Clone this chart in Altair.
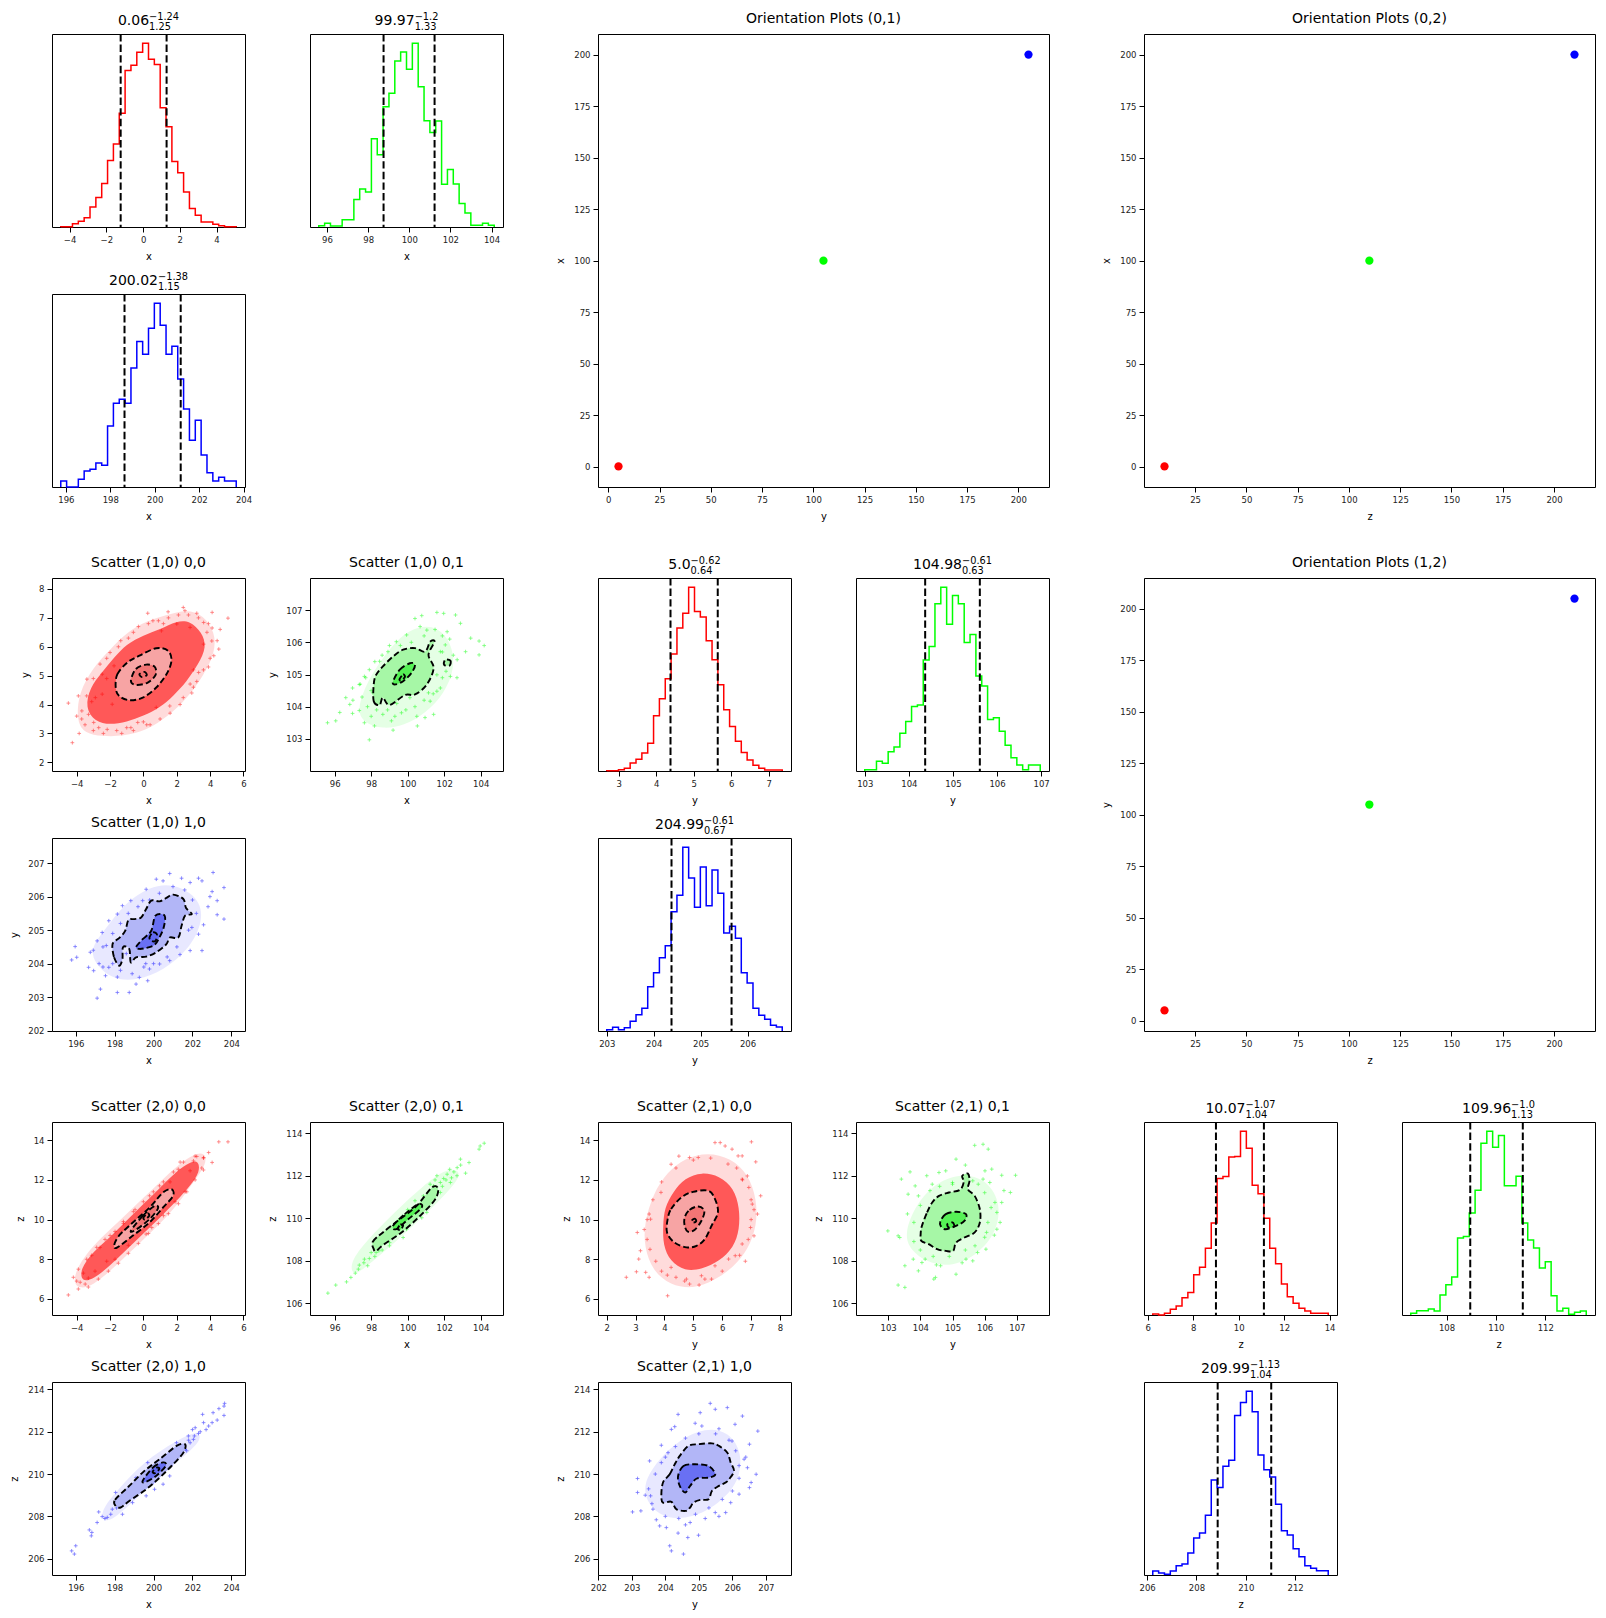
import altair as alt

FONT = "DejaVu Sans"
RED, GREEN, BLUE = "#ff0000", "#00ff00", "#0000ff"

# ---------------- layout constants ----------------
SW = 193                 # small panel size
GAP_X, GAP_Y = 65, 67    # gaps inside a block
BW = 2 * SW + GAP_X      # big (orientation) panel width
BH = 2 * SW + GAP_Y      # big panel height

# ---------------- histogram data (30 equal bins each) ----------------
hx_r_range = [-4.48, 5.07]
hx_r_counts = [1, 1, 10, 17, 28, 60, 88, 130, 199, 248, 340, 468, 484, 523, 550,
               502, 486, 357, 300, 196, 162, 105, 55, 35, 15, 15, 8, 4, 1, 0.5]
hx_r_lines = [-1.22, 1.28]
hx_r_title = ["0.06", "\u22121.24", "1.25"]

hx_g_range = [95.60, 104.13]
hx_g_counts = [4, 11, 3, 3, 22, 22, 82, 114, 105, 264, 216, 360, 400, 497, 524,
               472, 550, 420, 318, 283, 317, 128, 172, 129, 70, 42, 5, 5, 11, 5]
hx_g_lines = [98.75, 101.23]
hx_g_title = ["99.97", "\u22121.2", "1.33"]

hx_b_range = [195.77, 203.67]
hx_b_counts = [18, 0, 0, 23, 48, 53, 72, 65, 183, 251, 263, 251, 357, 436, 398,
               476, 551, 485, 398, 422, 324, 234, 140, 200, 96, 43, 18, 29, 18, 18]
hx_b_lines = [198.64, 201.17]
hx_b_title = ["200.02", "\u22121.38", "1.15"]

hy_r_range = [2.68, 7.36]
hy_r_counts = [1, 1, 4, 8, 24, 35, 54, 83, 165, 216, 276, 350, 428, 472, 550,
               477, 461, 390, 333, 258, 183, 133, 89, 55, 33, 17, 8, 3, 3, 3]
hy_r_lines = [4.38, 5.64]
hy_r_title = ["5.0", "\u22120.62", "0.64"]

hy_g_range = [103.0, 106.98]
hy_g_counts = [4, 4, 29, 23, 58, 72, 113, 149, 194, 198, 333, 374, 502, 552, 441,
               527, 502, 386, 410, 285, 255, 155, 160, 119, 77, 40, 18, 4, 18, 18]
hy_g_lines = [104.37, 105.61]
hy_g_title = ["104.98", "\u22120.61", "0.63"]

hy_b_range = [203.0, 206.74]
hy_b_counts = [4, 11, 4, 10, 29, 48, 68, 132, 173, 218, 254, 355, 404, 547, 455,
               368, 488, 373, 479, 410, 292, 312, 276, 173, 143, 68, 47, 35, 17, 12]
hy_b_lines = [204.38, 205.66]
hy_b_title = ["204.99", "\u22120.61", "0.67"]

hz_r_range = [6.22, 13.94]
hz_r_counts = [3, 0, 5, 17, 27, 52, 68, 121, 144, 201, 277, 411, 417, 475, 477,
               553, 502, 390, 365, 291, 201, 154, 93, 55, 35, 20, 12, 5, 5, 5]
hz_r_lines = [9.00, 11.11]
hz_r_title = ["10.07", "\u22121.07", "1.04"]

hz_g_range = [106.55, 113.66]
hz_g_counts = [5, 13, 13, 18, 12, 60, 91, 114, 231, 236, 306, 375, 516, 552, 504,
               539, 388, 388, 417, 276, 225, 201, 141, 160, 58, 12, 20, 2, 8, 12]
hz_g_lines = [108.96, 111.09]
hz_g_title = ["109.96", "\u22121.0", "1.13"]

hz_b_range = [206.23, 213.34]
hz_b_counts = [12, 6, 2, 12, 28, 33, 66, 111, 126, 180, 286, 263, 327, 345, 480,
               519, 553, 491, 361, 317, 295, 213, 133, 120, 79, 55, 28, 20, 13, 13]
hz_b_lines = [208.86, 211.03]
hz_b_title = ["209.99", "\u22121.13", "1.04"]

# hist tick labels
hx_ticks = {"r": [-4, -2, 0, 2, 4], "g": [96, 98, 100, 102, 104], "b": [196, 198, 200, 202, 204]}
hy_ticks = {"r": [3, 4, 5, 6, 7], "g": [103, 104, 105, 106, 107], "b": [203, 204, 205, 206]}
hz_ticks = {"r": [6, 8, 10, 12, 14], "g": [108, 110, 112], "b": [206, 208, 210, 212]}

# ---------------- scatter axes (domains and ticks per colour/variable) ----------------
dom_r = {"x": [-5.48, 6.09], "y": [1.70, 8.38], "z": [5.19, 14.92]}
dom_g = {"x": [94.65, 105.22], "y": [102.0, 108.0], "z": [105.44, 114.53]}
dom_b = {"x": [194.78, 204.70], "y": [201.99, 207.75], "z": [205.23, 214.35]}
tick_r = {"x": [-4, -2, 0, 2, 4, 6], "y": [2, 3, 4, 5, 6, 7, 8], "z": [6, 8, 10, 12, 14]}
tick_g = {"x": [96, 98, 100, 102, 104], "y": [103, 104, 105, 106, 107], "z": [106, 108, 110, 112, 114]}
tick_b = {"x": [196, 198, 200, 202, 204], "y": [202, 203, 204, 205, 206, 207], "z": [206, 208, 210, 212, 214]}

# ---------------- scatter (1,0): x vs y ----------------
s10r_halo = [(-4.0, 3.4), (-3.9, 4.4), (-3.0, 5.3), (-2.0, 5.9), (-1.0, 6.5), (0.2, 6.9), (1.4, 7.1),
             (2.6, 7.3), (3.6, 7.1), (4.3, 6.5), (4.3, 5.8), (3.6, 5.0), (2.6, 4.2), (1.5, 3.6),
             (0.2, 3.1), (-1.2, 2.9), (-2.5, 2.9), (-3.5, 3.0)]
s10r_cloud = [(-3.5, 3.9), (-3.2, 4.6), (-2.5, 5.1), (-1.8, 5.6), (-1.0, 6.1), (0.0, 6.4), (1.0, 6.6),
              (2.0, 6.9), (2.8, 6.9), (3.5, 6.5), (3.8, 6.0), (3.3, 5.4), (2.6, 4.8), (1.8, 4.3),
              (1.0, 3.9), (0.0, 3.6), (-1.0, 3.4), (-2.0, 3.3), (-2.9, 3.4)]
s10r_c1 = [(-1.66, 4.59), (-1.56, 5.05), (-0.95, 5.46), (-0.24, 5.69), (0.77, 5.95), (1.48, 5.86),
           (1.68, 5.51), (1.38, 5.05), (0.77, 4.59), (-0.04, 4.24), (-0.85, 4.15), (-1.46, 4.30)]
s10r_c2 = [(-0.75, 4.82), (-0.45, 5.23), (0.16, 5.38), (0.67, 5.31), (0.73, 5.03), (0.26, 4.76), (-0.45, 4.68)]
s10r_c3 = [(-0.24, 5.05), (0.06, 5.13), (0.2, 5.02), (-0.08, 4.95)]
s10r_pts = [(-4.50, 4.05), (-4.26, 2.68), (-3.85, 3.0), (-3.69, 3.78), (-3.29, 3.66), (-3.39, 4.88),
            (-2.98, 3.38), (-2.68, 3.20), (-2.47, 5.05), (-2.17, 3.14), (-1.76, 5.34), (-1.36, 6.21),
            (-0.75, 3.20), (-0.34, 3.38), (0.26, 7.16), (0.57, 6.90), (1.48, 7.21), (1.08, 6.55),
            (2.39, 7.36), (2.49, 7.25), (3.20, 7.16), (3.61, 6.84), (4.12, 7.19), (4.12, 6.65),
            (3.81, 6.50), (4.42, 6.21), (4.52, 5.92), (4.22, 5.69), (3.61, 6.09), (5.07, 6.99),
            (3.31, 5.11), (2.80, 4.71), (2.39, 4.24), (1.58, 3.95), (0.77, 3.90), (2.80, 6.67),
            (2.0, 6.79), (-2.47, 4.36), (-1.87, 4.01), (-2.88, 4.24), (-3.9, 4.3), (-2.2, 5.6),
            (-0.6, 6.5), (-1.3, 3.0), (0.4, 3.3), (3.0, 4.6), (3.9, 5.3), (4.6, 6.6),
            (-3.7, 3.5), (-3.4, 4.3), (-3.0, 4.9), (-2.6, 5.4), (-2.0, 5.8), (-1.5, 6.0), (-0.9, 6.3),
            (-0.3, 6.7), (0.3, 6.8), (0.9, 6.9), (1.5, 7.0), (2.1, 7.1), (2.7, 7.1), (3.3, 7.0), (3.9, 6.8),
            (4.1, 6.2), (4.0, 5.6), (3.6, 5.2), (3.2, 4.8), (2.9, 4.4), (2.2, 4.0), (1.6, 3.7), (1.0, 3.5),
            (0.2, 3.3), (-0.6, 3.1), (-1.6, 3.1), (-2.4, 3.0), (-3.0, 3.1), (-3.5, 3.3), (-4.0, 3.6),
            (-3.1, 4.1), (-2.2, 4.9), (1.2, 6.8), (3.0, 5.2), (0.0, 3.4), (-1.0, 3.2)]

s10g_cloud = [(97.2, 103.9), (97.8, 104.8), (98.6, 105.5), (99.6, 106.2), (100.6, 106.5), (101.6, 106.5),
              (102.4, 106.0), (102.6, 105.2), (102.0, 104.4), (101.0, 103.8), (99.8, 103.4), (98.6, 103.3),
              (97.6, 103.5)]
s10g_c1 = [(98.14, 104.69), (98.14, 104.17), (98.46, 104.05), (98.64, 104.28), (99.01, 104.05),
           (99.84, 104.36), (100.40, 104.38), (101.05, 104.69), (101.42, 105.20), (101.14, 105.61),
           (101.47, 106.02), (101.23, 106.02), (100.95, 105.71), (100.40, 105.82), (99.75, 105.77),
           (99.20, 105.56), (98.64, 105.25), (98.27, 104.99)]
s10g_c1b = [(102.06, 105.46), (102.34, 105.43), (102.30, 105.28), (102.0, 105.30)]
s10g_c2 = [(99.20, 104.79), (99.57, 105.15), (100.12, 105.35), (100.40, 105.30), (100.21, 105.05),
           (99.75, 104.79), (99.29, 104.69)]
s10g_c3 = [(99.55, 104.85), (99.75, 105.0), (99.85, 104.92), (99.65, 104.82)]
s10g_pts = [(95.61, 103.50), (96.06, 103.56), (96.28, 103.82), (96.83, 104.07), (96.98, 103.79),
            (97.35, 103.88), (97.63, 103.50), (97.90, 102.97), (98.18, 103.40), (98.64, 103.76),
            (99.11, 103.56), (99.20, 103.27), (99.66, 103.81), (100.12, 104.28), (100.53, 103.40),
            (100.95, 103.66), (101.23, 104.17), (101.60, 104.48), (101.79, 104.58), (102.34, 104.94),
            (102.71, 105.46), (103.17, 105.71), (103.45, 106.13), (103.91, 106.04), (103.91, 105.61),
            (104.19, 105.90), (102.89, 106.59), (102.62, 106.85), (102.16, 106.33), (101.97, 106.90),
            (101.60, 106.93), (100.77, 106.83), (100.40, 106.74), (100.68, 106.49), (99.94, 106.23),
            (101.05, 106.38), (99.38, 106.02), (98.92, 105.71), (98.46, 105.41), (97.90, 105.15),
            (97.35, 104.69), (96.98, 104.58), (96.61, 104.28), (101.42, 103.76), (97.63, 104.94),
            (98.46, 104.58), (99.01, 104.48), (99.57, 104.58), (100.68, 104.89), (100.86, 105.20),
            (99.94, 105.51), (100.49, 105.61), (98.09, 104.43), (98.83, 104.99), (101.14, 104.43),
            (101.60, 104.99), (101.79, 105.71), (102.06, 105.92),
            (97.0, 104.2), (97.5, 104.3), (97.8, 104.0), (98.0, 103.7), (98.3, 103.9), (98.9, 103.9),
            (99.4, 104.1), (99.9, 103.9), (100.4, 104.0), (100.9, 104.2), (101.4, 104.4), (101.9, 104.9),
            (102.1, 105.1), (102.5, 105.6), (102.3, 106.1), (101.9, 106.2), (101.5, 106.4), (100.9, 106.2),
            (100.2, 106.0), (99.6, 105.9), (99.0, 105.9), (98.6, 105.6), (98.2, 105.4), (97.7, 104.9),
            (97.4, 104.7), (98.0, 104.5), (101.9, 105.7), (102.7, 104.9), (100.5, 103.7), (99.3, 103.7)]

s10b_cloud = [(196.5, 204.3), (197.5, 205.0), (198.5, 205.8), (199.8, 206.3), (201.0, 206.4), (202.3, 206.0),
              (202.6, 205.3), (201.8, 204.4), (200.5, 203.8), (199.2, 203.5), (197.8, 203.5)]
s10b_c1 = [(197.88, 204.53), (197.97, 204.19), (198.23, 203.94), (198.40, 204.14), (198.43, 204.49),
           (198.75, 204.44), (198.83, 204.04), (199.10, 204.19), (199.62, 204.21), (200.14, 204.34),
           (200.66, 204.58), (200.83, 204.78), (201.27, 204.78), (201.44, 205.13), (201.62, 205.43),
           (201.97, 205.48), (201.67, 205.66), (201.53, 205.93), (201.01, 206.06), (200.66, 205.96),
           (200.31, 205.86), (199.88, 205.88), (199.62, 205.63), (199.36, 205.38), (199.01, 205.33),
           (198.71, 205.30), (198.54, 204.98), (198.23, 204.76), (197.97, 204.66)]
s10b_c2 = [(199.10, 204.49), (199.44, 204.73), (199.88, 204.98), (200.10, 205.43), (200.57, 205.43),
           (200.52, 205.08), (200.28, 204.76), (200.05, 204.56), (199.62, 204.47), (199.27, 204.44)]
s10b_c3 = [(199.79, 204.78), (199.97, 204.93), (200.17, 204.88), (200.10, 204.68), (199.88, 204.68)]
s10b_pts = [(195.97, 204.51), (195.79, 204.11), (196.05, 204.19), (196.75, 204.34), (196.66, 203.89),
            (196.92, 203.79), (197.10, 202.97), (197.27, 203.24), (197.53, 203.64), (197.70, 203.89),
            (198.14, 203.14), (198.14, 203.60), (198.75, 203.14), (199.10, 203.39), (199.27, 203.59),
            (199.70, 203.49), (199.79, 203.84), (200.31, 203.99), (200.83, 204.09), (201.36, 204.27),
            (201.88, 204.39), (202.49, 204.39), (202.31, 204.88), (201.97, 205.08), (202.57, 205.16),
            (203.27, 205.46), (203.62, 205.33), (203.27, 205.88), (203.62, 206.27), (203.01, 206.15),
            (202.49, 206.47), (202.31, 206.55), (201.88, 206.42), (201.44, 206.55), (200.83, 206.69),
            (200.49, 206.47), (200.14, 206.52), (199.62, 206.22), (199.44, 205.88), (198.83, 205.88),
            (198.40, 205.73), (198.14, 205.48), (197.70, 205.28), (197.36, 204.93), (197.10, 204.68),
            (197.57, 204.54), (203.06, 206.72),
            (197.4, 203.9), (197.9, 204.0), (198.3, 203.8), (198.9, 203.7), (199.5, 203.9), (200.0, 204.0),
            (200.7, 204.2), (201.2, 204.5), (201.8, 205.0), (202.2, 205.5), (202.0, 205.9), (201.6, 206.2),
            (201.0, 206.3), (200.3, 206.1), (199.8, 205.9), (199.2, 205.7), (198.7, 205.5), (198.3, 205.2),
            (197.9, 204.9), (197.4, 204.5), (196.9, 204.4), (197.2, 204.0), (202.8, 205.7), (202.9, 206.0),
            (198.6, 204.3), (199.6, 204.0), (201.4, 205.6)]

# ---------------- scatter (2,0): x vs z ----------------
s20r_halo = [(-4.2, 6.8), (-4.0, 7.6), (-3.0, 8.7), (-2.0, 9.5), (-1.0, 10.3), (0.0, 11.1), (1.0, 11.9),
             (2.0, 12.7), (3.0, 13.3), (3.7, 13.4), (3.8, 12.8), (3.0, 11.9), (2.0, 10.7), (1.0, 9.8),
             (0.0, 9.0), (-1.0, 8.2), (-2.0, 7.4), (-3.0, 6.7), (-3.8, 6.5)]
s20r_cloud = [(-3.8, 7.5), (-3.0, 8.4), (-2.0, 9.1), (-1.0, 9.95), (0.0, 10.8), (1.0, 11.6), (2.0, 12.46),
              (2.8, 12.9), (3.3, 13.0), (3.4, 12.4), (2.8, 11.7), (2.0, 10.95), (1.0, 10.1), (0.0, 9.3),
              (-1.0, 8.5), (-2.0, 7.67), (-3.0, 7.0), (-3.7, 6.85)]
s20r_c1 = [(-1.76, 8.68), (-1.50, 9.15), (-0.85, 9.69), (0.37, 10.61), (1.18, 11.37), (1.68, 11.53),
           (1.78, 11.20), (1.18, 10.61), (0.37, 9.86), (-0.65, 9.18), (-1.56, 8.60)]
s20r_c2 = [(-0.75, 9.44), (-0.04, 10.19), (0.67, 10.69), (0.87, 10.56), (0.37, 10.02), (-0.45, 9.49)]
s20r_c3 = [(0.0, 10.1), (0.25, 10.3), (0.35, 10.2), (0.1, 10.0)]
s20r_pts = [(-4.50, 6.20), (-4.20, 7.09), (-3.79, 6.84), (-3.49, 6.75), (-3.6, 7.3), (-3.3, 7.05),
            (-2.9, 7.4), (-2.6, 8.6), (-3.1, 8.2), (-2.2, 7.9), (-1.7, 8.0), (-1.2, 9.9), (-0.5, 10.5),
            (0.5, 9.6), (1.2, 10.2), (0.97, 11.70), (0.37, 11.20), (0.16, 9.27), (1.6, 11.9),
            (2.09, 12.54), (2.5, 11.4), (2.80, 12.46), (3.00, 12.96), (3.20, 13.18), (3.61, 13.13),
            (3.91, 13.38), (4.12, 12.88), (4.52, 13.92), (5.07, 13.92), (3.6, 12.5), (2.2, 12.9),
            (-2.0, 9.2), (-0.9, 8.7), (1.9, 10.9),
            (-4.0, 6.9), (-3.9, 7.5), (-3.4, 8.0), (-2.8, 8.6), (-2.3, 9.0), (-1.7, 9.4), (-1.2, 9.8),
            (-0.6, 10.4), (0.0, 10.9), (0.6, 11.4), (1.2, 11.9), (1.8, 12.4), (2.4, 12.9), (3.1, 13.2),
            (3.6, 13.1), (3.5, 12.6), (3.1, 12.0), (2.6, 11.4), (2.1, 10.8), (1.5, 10.3), (0.9, 9.8),
            (0.3, 9.3), (-0.3, 8.8), (-0.9, 8.3), (-1.5, 7.8), (-2.1, 7.4), (-2.7, 7.0), (-3.3, 6.6),
            (-3.9, 6.5)]

s20g_cloud = [(97.0, 107.2), (98.0, 107.9), (99.5, 109.0), (101.0, 110.2), (102.5, 111.5), (103.0, 112.2),
              (102.2, 112.4), (100.8, 111.5), (99.3, 110.3), (97.8, 109.0), (96.8, 107.9)]
s20g_c1 = [(98.14, 108.54), (98.09, 108.89), (98.64, 109.33), (99.57, 109.95), (100.49, 110.58),
           (101.32, 111.44), (101.66, 111.40), (101.51, 110.89), (100.68, 110.11), (99.66, 109.33),
           (98.64, 108.73), (98.27, 108.45)]
s20g_c2 = [(99.20, 109.64), (99.84, 110.19), (100.58, 110.66), (100.77, 110.50), (100.03, 109.95), (99.38, 109.49)]
s20g_c3 = [(99.45, 109.5), (99.6, 109.7), (99.75, 109.65), (99.6, 109.45)]
s20g_pts = [(95.63, 106.47), (96.06, 106.85), (96.65, 107.00), (96.89, 107.21), (97.13, 107.41),
            (97.35, 107.79), (97.63, 108.07), (97.81, 107.76), (98.00, 108.38), (98.42, 108.46),
            (99.01, 108.85), (99.20, 109.17), (99.94, 109.48), (101.05, 110.27), (101.32, 110.89),
            (101.42, 111.52), (101.79, 111.68), (101.97, 111.87), (102.16, 112.07), (102.53, 112.18),
            (102.71, 112.38), (102.89, 112.78), (103.17, 112.12), (103.36, 112.62), (103.91, 113.25),
            (104.19, 113.53), (103.97, 113.40), (101.79, 111.21), (100.86, 111.05), (100.12, 110.35),
            (99.48, 109.64), (98.83, 109.01), (98.27, 108.38), (100.77, 110.02), (99.75, 109.09),
            (102.34, 111.68), (101.60, 112.0), (101.23, 111.60), (100.40, 110.82), (101.05, 110.74),
            (97.3, 107.6), (97.6, 107.9), (97.9, 108.1), (98.2, 108.2), (98.6, 108.5), (98.9, 109.1),
            (99.3, 109.3), (99.8, 109.6), (100.2, 110.0), (100.6, 110.5), (101.0, 110.9), (101.3, 111.1),
            (101.6, 111.3), (101.9, 111.5), (102.1, 111.8), (102.4, 111.9), (102.7, 112.0), (98.4, 108.9),
            (99.0, 108.7), (99.5, 109.9), (100.0, 110.4), (100.9, 110.5), (101.5, 111.8), (102.3, 112.3),
            (102.9, 112.5)]

s20b_cloud = [(197.5, 207.6), (198.5, 208.3), (200.0, 209.6), (201.5, 210.8), (202.5, 211.6), (202.3, 212.1),
              (201.2, 211.6), (199.5, 210.6), (198.2, 209.3), (197.2, 208.2)]
s20b_c1 = [(198.05, 208.50), (198.02, 208.78), (198.75, 209.44), (199.53, 210.15), (200.31, 210.70),
           (201.18, 211.33), (201.62, 211.41), (201.53, 211.01), (200.92, 210.38), (200.31, 209.83),
           (199.62, 209.28), (198.75, 208.73), (198.31, 208.42)]
s20b_c2 = [(199.44, 209.68), (199.97, 210.31), (200.49, 210.55), (200.63, 210.39), (200.14, 209.92), (199.62, 209.64)]
s20b_c3 = [(199.95, 210.1), (200.15, 210.3), (200.3, 210.25), (200.1, 210.05)]
s20b_pts = [(195.79, 206.37), (196.0, 206.61), (195.93, 206.22), (196.70, 207.36), (196.83, 207.24),
            (196.80, 207.08), (197.10, 207.71), (197.18, 208.21), (197.36, 207.99), (197.62, 207.95),
            (197.88, 208.34), (198.05, 209.13), (198.31, 208.81), (198.40, 208.10), (198.92, 208.65),
            (199.27, 209.20), (199.62, 208.97), (199.79, 209.83), (200.05, 209.28), (200.49, 209.52),
            (200.83, 209.91), (201.27, 210.86), (201.62, 211.17), (201.79, 211.80), (201.88, 211.48),
            (202.05, 211.64), (202.31, 211.92), (202.14, 212.19), (202.52, 212.82), (202.57, 212.43),
            (202.83, 212.27), (203.01, 212.43), (203.06, 212.90), (203.27, 212.55), (203.36, 213.09),
            (203.62, 213.21), (203.65, 213.34), (203.62, 212.77), (201.18, 211.48), (200.83, 211.01),
            (200.49, 210.78), (199.70, 210.54), (199.10, 209.83), (198.66, 209.28),
            (197.5, 207.9), (197.8, 208.1), (198.1, 208.4), (198.5, 208.7), (198.9, 209.1), (199.3, 209.5),
            (199.7, 209.9), (200.2, 210.3), (200.6, 210.7), (201.0, 211.0), (201.4, 211.3), (201.8, 211.6),
            (202.1, 211.8), (202.4, 212.0), (202.7, 212.1), (198.3, 208.9), (199.0, 208.9), (200.0, 209.6),
            (200.9, 210.4), (201.7, 211.1), (202.0, 212.1)]

# ---------------- scatter (2,1): y vs z ----------------
s21r_halo = [(3.3, 9.8), (3.3, 8.6), (3.6, 7.4), (4.2, 6.7), (5.0, 6.5), (5.7, 6.9), (6.4, 7.6), (6.9, 8.5),
             (7.2, 9.7), (7.2, 11.0), (6.9, 12.3), (6.3, 13.1), (5.5, 13.4), (4.7, 13.1), (4.1, 12.4), (3.6, 11.3)]
s21r_cloud = [(3.95, 9.7), (3.95, 8.7), (4.2, 7.9), (4.7, 7.4), (5.3, 7.5), (5.9, 7.9), (6.4, 8.6),
              (6.6, 9.5), (6.6, 10.6), (6.4, 11.6), (5.9, 12.2), (5.3, 12.4), (4.7, 12.1), (4.3, 11.4), (4.0, 10.6)]
s21r_c1 = [(4.11, 10.02), (4.23, 10.53), (4.58, 11.11), (4.99, 11.40), (5.52, 11.45), (5.75, 11.03),
           (5.85, 10.36), (5.63, 9.69), (5.40, 9.02), (5.11, 8.68), (4.76, 8.60), (4.34, 8.85), (4.09, 9.35)]
s21r_c2 = [(4.70, 10.11), (4.87, 10.49), (5.17, 10.66), (5.38, 10.44), (5.28, 9.94), (5.05, 9.49),
           (4.81, 9.39), (4.70, 9.69)]
s21r_c3 = [(4.95, 9.95), (5.05, 10.05), (5.1, 9.92), (5.0, 9.85)]
s21r_pts = [(2.68, 7.09), (3.03, 7.37), (3.06, 9.35), (3.17, 8.43), (3.11, 8.01), (3.35, 7.34),
            (3.47, 7.09), (3.47, 10.28), (3.52, 10.02), (3.88, 11.37), (4.23, 12.79), (4.87, 13.13),
            (5.17, 13.13), (5.75, 13.88), (5.93, 13.88), (6.10, 13.71), (6.34, 13.55), (6.55, 13.21),
            (6.69, 13.21), (7.01, 13.92), (7.16, 12.91), (6.87, 12.20), (6.69, 12.04), (6.92, 11.62),
            (7.33, 11.20), (7.04, 10.78), (7.22, 10.28), (6.98, 9.60), (7.10, 9.18), (6.69, 8.77),
            (6.45, 8.18), (6.22, 8.01), (5.63, 7.00), (5.28, 7.17), (4.87, 6.75), (4.76, 7.00),
            (4.11, 6.16), (4.23, 7.59), (4.40, 7.09), (5.75, 7.67),
            (3.4, 9.0), (3.4, 10.0), (3.6, 11.0), (3.9, 11.9), (4.4, 12.6), (5.0, 13.0), (5.6, 13.1),
            (6.2, 12.8), (6.7, 12.0), (7.0, 11.0), (7.0, 10.0), (6.9, 9.0), (6.6, 8.2), (6.0, 7.4),
            (5.4, 7.0), (4.7, 6.9), (4.1, 7.2), (3.7, 7.9), (3.5, 8.5), (4.5, 13.2), (6.5, 12.6),
            (6.8, 7.9), (3.9, 7.4), (5.2, 6.7), (3.3, 9.5), (7.1, 10.5)]

s21g_cloud = [(103.5, 109.2), (103.8, 110.5), (104.4, 111.6), (105.2, 112.1), (106.0, 111.9), (106.5, 110.8),
              (106.4, 109.4), (105.8, 108.3), (105.0, 107.7), (104.2, 107.9), (103.7, 108.5)]
s21g_c1 = [(104.05, 109.64), (104.21, 110.27), (104.37, 110.74), (104.58, 111.05), (104.89, 111.21),
           (105.23, 111.33), (105.35, 111.71), (105.30, 111.99), (105.48, 112.10), (105.53, 111.76),
           (105.48, 111.36), (105.69, 111.05), (105.85, 110.42), (105.85, 109.80), (105.69, 109.33),
           (105.37, 109.09), (105.11, 108.85), (105.02, 108.46), (104.79, 108.46), (104.52, 108.54),
           (104.26, 108.78), (104.03, 108.93), (104.01, 109.25)]
s21g_c2 = [(104.63, 109.87), (104.79, 110.19), (105.11, 110.30), (105.42, 110.19), (105.37, 109.87),
           (105.11, 109.64), (104.79, 109.48), (104.63, 109.64)]
s21g_c3 = [(104.84, 109.72), (105.0, 109.80), (105.05, 109.61), (104.89, 109.56)]
s21g_pts = [(102.99, 109.40), (103.41, 111.84), (103.62, 111.13), (103.68, 112.18), (103.31, 109.17),
            (103.36, 109.09), (103.31, 106.85), (103.52, 106.74), (103.52, 107.76), (103.78, 108.07),
            (103.94, 107.52), (104.05, 107.91), (104.15, 108.07), (104.42, 107.13), (104.47, 107.21),
            (104.63, 107.76), (105.11, 107.36), (105.42, 108.07), (105.63, 107.99), (105.78, 108.38),
            (106.04, 108.54), (106.06, 109.33), (106.38, 109.48), (106.48, 109.80), (106.32, 110.74),
            (106.53, 110.74), (106.80, 111.21), (106.96, 112.02), (106.53, 112.02), (106.22, 112.31),
            (106.01, 112.23), (105.95, 111.84), (106.11, 113.25), (105.95, 113.48), (105.69, 113.43),
            (105.11, 112.78), (104.79, 112.23), (104.58, 112.15), (104.37, 111.60), (103.94, 111.05),
            (103.84, 111.52), (104.15, 109.95), (106.38, 110.27), (106.16, 111.68), (105.63, 111.76),
            (105.0, 111.68),
            (103.8, 109.8), (104.0, 110.6), (104.3, 111.3), (104.6, 111.5), (105.0, 111.6), (105.8, 111.6),
            (106.0, 111.2), (106.2, 110.5), (106.1, 109.8), (106.0, 109.1), (105.7, 108.7), (105.4, 108.5),
            (104.9, 108.2), (104.4, 108.2), (104.0, 108.5), (103.8, 108.9), (104.5, 107.8), (105.3, 107.9),
            (106.3, 109.2), (103.6, 110.2), (104.2, 112.0), (105.4, 112.5), (106.6, 111.3)]

s21b_cloud = [(203.3, 209.5), (203.8, 210.7), (204.4, 211.6), (205.2, 212.2), (205.9, 212.0), (206.3, 211.0),
              (206.2, 209.6), (205.6, 208.6), (204.8, 207.9), (204.0, 207.9), (203.5, 208.5)]
s21b_c1 = [(203.93, 209.60), (204.13, 209.99), (204.28, 210.46), (204.43, 210.86), (204.69, 211.33),
           (204.99, 211.41), (205.39, 211.45), (205.60, 211.33), (205.85, 211.01), (205.95, 210.54),
           (206.05, 210.15), (205.90, 209.75), (205.80, 209.60), (205.60, 209.44), (205.39, 209.20),
           (205.29, 208.81), (205.04, 208.78), (204.84, 208.65), (204.74, 208.42), (204.61, 208.26),
           (204.33, 208.34), (204.18, 208.69), (203.93, 208.65), (203.88, 208.97)]
s21b_c2 = [(204.38, 209.91), (204.54, 210.38), (204.89, 210.46), (205.29, 210.38), (205.49, 209.99),
           (205.29, 209.83), (204.94, 209.79), (204.74, 209.44), (204.59, 209.13), (204.43, 209.44)]
s21b_pts = [(203.02, 208.21), (203.17, 209.79), (203.17, 209.13), (203.27, 208.26), (203.53, 210.62),
            (203.56, 208.97), (203.63, 208.34), (203.73, 207.84), (203.83, 207.55), (203.88, 210.54),
            (204.03, 207.47), (204.13, 206.61), (204.18, 206.37), (204.38, 207.21), (204.54, 206.22),
            (204.67, 207.00), (204.74, 207.71), (204.99, 207.11), (205.19, 207.90), (205.49, 208.18),
            (205.80, 208.18), (205.95, 208.65), (206.20, 209.05), (206.51, 209.36), (206.56, 209.60),
            (206.71, 209.99), (206.45, 210.30), (206.35, 210.70), (206.51, 211.41), (206.76, 212.03),
            (206.30, 212.74), (206.08, 212.35), (205.85, 213.14), (205.49, 213.06), (205.34, 213.34),
            (205.04, 212.90), (204.89, 212.40), (204.38, 212.82), (204.28, 212.24), (204.18, 212.11),
            (203.88, 211.36), (204.08, 211.01), (205.09, 212.27), (205.60, 212.14), (205.99, 211.56),
            (203.5, 209.3), (203.7, 210.0), (204.0, 210.8), (204.3, 211.3), (204.6, 211.7), (205.0, 211.9),
            (205.5, 211.9), (205.9, 211.6), (206.1, 211.1), (206.2, 210.4), (206.2, 209.8), (206.0, 209.2),
            (205.7, 208.8), (205.3, 208.4), (204.9, 208.1), (204.4, 207.9), (204.0, 208.0), (203.6, 208.6),
            (203.4, 209.0), (204.6, 207.6), (205.6, 208.0), (206.4, 210.8)]

# ---------------- orientation plots (medians) ----------------
med_x = [0.06, 99.97, 200.02]
med_y = [5.0, 104.98, 204.99]
med_z = [10.07, 109.96, 209.99]
orient_ticks_full = [0, 25, 50, 75, 100, 125, 150, 175, 200]
orient_ticks_z = [25, 50, 75, 100, 125, 150, 175, 200]

# ---------------- helpers ----------------
PLUS = "M-1,0L1,0M0,-1L0,1"
CW = {".": 0.318, "\u2212": 0.838}


def text_w(s, fs):
    return sum(CW.get(c, 0.636) for c in s) * fs


def axis(values, title):
    return alt.Axis(values=values, title=title, labelFlush=False, labelOverlap=False)


def hist_panel(rng, counts, lines, title, color, xlabel, ticks):
    lo, hi = rng
    n = len(counts)
    w = (hi - lo) / n
    rows = [{"i": 0, "e": lo, "c": 0}]
    for k, c in enumerate(counts):
        rows.append({"i": k + 1, "e": lo + k * w, "c": c})
    rows.append({"i": n + 1, "e": hi, "c": 0})
    pad = 0.05 * (hi - lo)
    X = alt.X("e:Q", scale=alt.Scale(domain=[lo - pad, hi + pad], nice=False, zero=False),
              axis=axis(ticks, xlabel))
    Y = alt.Y("c:Q", scale=alt.Scale(domain=[0, max(counts) * 1.05], nice=False), axis=None)
    step = alt.Chart(alt.Data(values=rows)).mark_line(
        interpolate="step-after", color=color, strokeWidth=1.5).encode(x=X, y=Y, order="i:Q")
    rule = alt.Chart(alt.Data(values=[{"e": v} for v in lines])).mark_rule(
        color="black", strokeWidth=2, strokeDash=[7.4, 3.2]).encode(x=X)
    main, sup, sub = title
    fm, fs = 14, 9.8
    wm = text_w(main, fm)
    ws = max(text_w(sup, fs), text_w(sub, fs))
    x0 = SW / 2 - (wm + ws) / 2
    texts = []
    for s, f, xx, yy in [(main, fm, x0, -9), (sup, fs, x0 + wm, -14.5), (sub, fs, x0 + wm, -4.5)]:
        texts.append(alt.Chart(alt.Data(values=[{"t": s}])).mark_text(
            align="left", baseline="alphabetic", font=FONT, fontSize=f, color="black").encode(
            text="t:N", x=alt.value(xx), y=alt.value(yy)))
    return alt.layer(step, rule, *texts).properties(width=SW, height=SW)


# colour, kde fill, kde core, halo opacity, dense opacity, domains, ticks
COLS = {
    "r": (RED, "#f7a4a4", "#f27070", 0.14, 0.6, dom_r, tick_r),
    "g": (GREEN, "#a6f7a6", "#4ef04e", 0.10, 0.0, dom_g, tick_g),
    "b": (BLUE, "#b2b6f7", "#6068f2", 0.09, 0.0, dom_b, tick_b),
}


def loops_rows(loops):
    out = []
    for li, lp in enumerate(loops):
        for i, (a, b) in enumerate(lp):
            out.append({"x": a, "y": b, "i": i, "loop": li})
    return out


def scatter_panel(title, col, xv, yv, halo, cloud, pts, outer, inner):
    color, light, mid, hop, cop, dom, tks = COLS[col]
    X = alt.X("x:Q", scale=alt.Scale(domain=dom[xv], nice=False, zero=False), axis=axis(tks[xv], xv))
    Y = alt.Y("y:Q", scale=alt.Scale(domain=dom[yv], nice=False, zero=False), axis=axis(tks[yv], yv))
    enc = dict(x=X, y=Y, order="i:Q", detail="loop:N")
    lay = [
        alt.Chart(alt.Data(values=loops_rows([halo]))).mark_line(
            interpolate="basis-closed", fill=color, fillOpacity=hop, strokeOpacity=0, clip=True).encode(**enc),
    ]
    if cop > 0:
        lay.append(alt.Chart(alt.Data(values=loops_rows([cloud]))).mark_line(
            interpolate="basis-closed", fill=color, fillOpacity=cop, strokeOpacity=0, clip=True).encode(**enc))
    lay += [
        alt.Chart(alt.Data(values=[{"x": a, "y": b} for a, b in pts])).mark_point(
            shape=PLUS, filled=False, size=14, strokeWidth=0.8, color=color, opacity=0.55, clip=True).encode(x=X, y=Y),
        alt.Chart(alt.Data(values=loops_rows(outer))).mark_line(
            interpolate="cardinal-closed", fill=light, fillOpacity=1, strokeOpacity=0).encode(**enc),
        alt.Chart(alt.Data(values=loops_rows(inner))).mark_line(
            interpolate="cardinal-closed", fill=mid, fillOpacity=0.9, strokeOpacity=0).encode(**enc),
        alt.Chart(alt.Data(values=loops_rows(outer + inner))).mark_line(
            interpolate="cardinal-closed", color="black", strokeWidth=1.9, strokeDash=[6, 3]).encode(**enc),
    ]
    return alt.layer(*lay).properties(width=SW, height=SW, title=title)


def pad5(vals):
    lo, hi = min(vals), max(vals)
    p = 0.05 * (hi - lo)
    return [lo - p, hi + p]


def orient_panel(title, xs, ys, xl, yl, xticks):
    rows = [{"x": a, "y": b, "c": c} for a, b, c in zip(xs, ys, ["r", "g", "b"])]
    return alt.Chart(alt.Data(values=rows)).mark_circle(size=68, opacity=1).encode(
        x=alt.X("x:Q", scale=alt.Scale(domain=pad5(xs), nice=False, zero=False), axis=axis(xticks, xl)),
        y=alt.Y("y:Q", scale=alt.Scale(domain=pad5(ys), nice=False, zero=False), axis=axis(orient_ticks_full, yl)),
        color=alt.Color("c:N", scale=alt.Scale(domain=["r", "g", "b"], range=[RED, GREEN, BLUE]), legend=None),
    ).properties(width=BW, height=BH, title=title)


def block(a, b, c):
    return alt.concat(a, b, c, columns=2, bounds="flush", spacing={"row": GAP_Y, "column": GAP_X})


B00 = block(hist_panel(hx_r_range, hx_r_counts, hx_r_lines, hx_r_title, RED, "x", hx_ticks["r"]),
            hist_panel(hx_g_range, hx_g_counts, hx_g_lines, hx_g_title, GREEN, "x", hx_ticks["g"]),
            hist_panel(hx_b_range, hx_b_counts, hx_b_lines, hx_b_title, BLUE, "x", hx_ticks["b"]))
B11 = block(hist_panel(hy_r_range, hy_r_counts, hy_r_lines, hy_r_title, RED, "y", hy_ticks["r"]),
            hist_panel(hy_g_range, hy_g_counts, hy_g_lines, hy_g_title, GREEN, "y", hy_ticks["g"]),
            hist_panel(hy_b_range, hy_b_counts, hy_b_lines, hy_b_title, BLUE, "y", hy_ticks["b"]))
B22 = block(hist_panel(hz_r_range, hz_r_counts, hz_r_lines, hz_r_title, RED, "z", hz_ticks["r"]),
            hist_panel(hz_g_range, hz_g_counts, hz_g_lines, hz_g_title, GREEN, "z", hz_ticks["g"]),
            hist_panel(hz_b_range, hz_b_counts, hz_b_lines, hz_b_title, BLUE, "z", hz_ticks["b"]))

B10 = block(scatter_panel("Scatter (1,0) 0,0", "r", "x", "y", s10r_halo, s10r_cloud, s10r_pts, [s10r_c1], [s10r_c2, s10r_c3]),
            scatter_panel("Scatter (1,0) 0,1", "g", "x", "y", s10g_cloud, s10g_cloud, s10g_pts, [s10g_c1, s10g_c1b], [s10g_c2, s10g_c3]),
            scatter_panel("Scatter (1,0) 1,0", "b", "x", "y", s10b_cloud, s10b_cloud, s10b_pts, [s10b_c1], [s10b_c2, s10b_c3]))
B20 = block(scatter_panel("Scatter (2,0) 0,0", "r", "x", "z", s20r_halo, s20r_cloud, s20r_pts, [s20r_c1], [s20r_c2, s20r_c3]),
            scatter_panel("Scatter (2,0) 0,1", "g", "x", "z", s20g_cloud, s20g_cloud, s20g_pts, [s20g_c1], [s20g_c2, s20g_c3]),
            scatter_panel("Scatter (2,0) 1,0", "b", "x", "z", s20b_cloud, s20b_cloud, s20b_pts, [s20b_c1], [s20b_c2, s20b_c3]))
B21 = block(scatter_panel("Scatter (2,1) 0,0", "r", "y", "z", s21r_halo, s21r_cloud, s21r_pts, [s21r_c1], [s21r_c2, s21r_c3]),
            scatter_panel("Scatter (2,1) 0,1", "g", "y", "z", s21g_cloud, s21g_cloud, s21g_pts, [s21g_c1], [s21g_c2, s21g_c3]),
            scatter_panel("Scatter (2,1) 1,0", "b", "y", "z", s21b_cloud, s21b_cloud, s21b_pts, [s21b_c1], [s21b_c2]))

B01 = orient_panel("Orientation Plots (0,1)", med_y, med_x, "y", "x", orient_ticks_full)
B02 = orient_panel("Orientation Plots (0,2)", med_z, med_x, "z", "x", orient_ticks_z)
B12 = orient_panel("Orientation Plots (1,2)", med_z, med_y, "z", "y", orient_ticks_z)

chart = alt.concat(B00, B01, B02, B10, B11, B12, B20, B21, B22, columns=3,
                   spacing={"row": 33, "column": 51}).properties(
    padding={"left": 9, "top": 11, "right": 5, "bottom": 5})

chart = chart.configure_view(stroke="black", strokeWidth=1).configure_axis(
    labelFont=FONT, labelFontSize=8.5, labelColor="#222222", titleFont=FONT, titleFontSize=10,
    titleFontWeight="normal", titleColor="black", tickColor="black", tickSize=5, tickWidth=1,
    labelPadding=3, titlePadding=8, domain=False, grid=False).configure_title(
    font=FONT, fontSize=14, fontWeight="normal", color="black", anchor="middle", frame="group",
    offset=8, baseline="alphabetic")

chart.save("out.html", embed_options={"renderer": "svg", "actions": False})
